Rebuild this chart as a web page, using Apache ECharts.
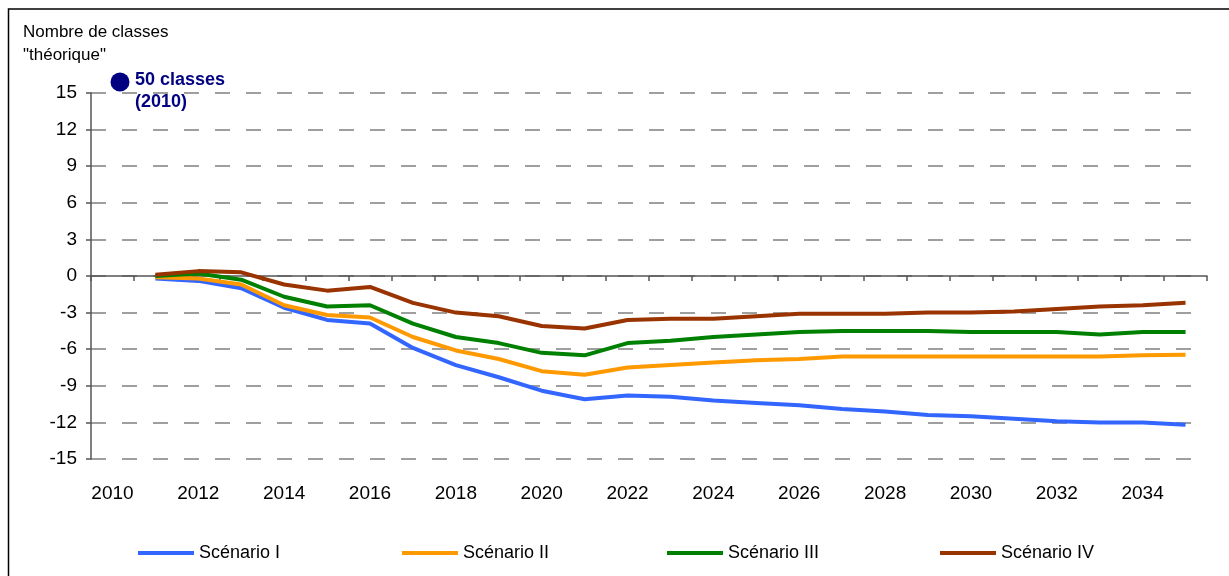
<!DOCTYPE html>
<html>
<head>
<meta charset="utf-8">
<script src="https://cdn.jsdelivr.net/npm/echarts@6/dist/echarts.min.js"></script>
<style>
html,body{margin:0;padding:0;background:#fff;}
#chart{width:1229px;height:576px;}
</style>
</head>
<body>
<div id="chart"></div>
<script>
const years = ['2010','2011','2012','2013','2014','2015','2016','2017','2018','2019','2020','2021','2022','2023','2024','2025','2026','2027','2028','2029','2030','2031','2032','2033','2034','2035'];
const scenarioI   = [null,-0.2,-0.4,-1.0,-2.6,-3.6,-3.9,-5.9,-7.3,-8.3,-9.4,-10.1,-9.8,-9.9,-10.2,-10.4,-10.6,-10.9,-11.1,-11.4,-11.5,-11.7,-11.9,-12.0,-12.0,-12.2];
const scenarioII  = [null,-0.1,-0.2,-0.7,-2.4,-3.2,-3.4,-5.0,-6.1,-6.8,-7.8,-8.1,-7.5,-7.3,-7.1,-6.9,-6.8,-6.6,-6.6,-6.6,-6.6,-6.6,-6.6,-6.6,-6.5,-6.45];
const scenarioIII = [null,0.0,0.2,-0.3,-1.7,-2.5,-2.4,-3.9,-5.0,-5.5,-6.3,-6.5,-5.5,-5.3,-5.0,-4.8,-4.6,-4.5,-4.5,-4.5,-4.6,-4.6,-4.6,-4.8,-4.6,-4.6];
const scenarioIV  = [null,0.1,0.4,0.3,-0.7,-1.2,-0.9,-2.2,-3.0,-3.3,-4.1,-4.3,-3.6,-3.5,-3.5,-3.3,-3.1,-3.1,-3.1,-3.0,-3.0,-2.9,-2.7,-2.5,-2.4,-2.2];
const seriesNames = ['Scénario I','Scénario II','Scénario III','Scénario IV'];
const seriesColors = ['#3366FF','#FF9900','#008000','#993300'];
const seriesData = [scenarioI, scenarioII, scenarioIII, scenarioIV];
const yTicks = {min:-15, max:15, interval:3};

const FONT = 'Liberation Sans, Arial, sans-serif';
const chart = echarts.init(document.getElementById('chart'), null, {renderer:'canvas'});

const legendLefts = [138, 402, 667, 940];

const option = {
  animation: false,
  backgroundColor: '#ffffff',
  textStyle: {fontFamily: FONT},
  grid: {left: 91, right: 22, top: 93, bottom: 117, containLabel: false},
  legend: seriesNames.map((n, i) => ({
    data: [n],
    left: legendLefts[i],
    top: 544,
    padding: 0,
    icon: 'rect',
    itemWidth: 56,
    itemHeight: 4,
    itemGap: 0,
    textStyle: {fontFamily: FONT, fontSize: 18, color: '#000'}
  })),
  xAxis: [
    {
      type: 'category',
      data: years,
      boundaryGap: true,
      position: 'bottom',
      axisLine: {onZero: true, lineStyle: {color: '#555555', width: 1.5}},
      axisTick: {show: true, interval: 0, length: 5, inside: false, lineStyle: {color: '#555555', width: 1.5}},
      axisLabel: {show: false},
      splitLine: {show: false}
    },
    {
      type: 'category',
      data: years,
      boundaryGap: true,
      position: 'bottom',
      axisLine: {show: false, onZero: false},
      axisTick: {show: false},
      axisLabel: {show: true, interval: 1, margin: 25, fontSize: 19, color: '#000', fontFamily: FONT},
      splitLine: {show: false}
    }
  ],
  yAxis: {
    type: 'value',
    min: yTicks.min,
    max: yTicks.max,
    interval: yTicks.interval,
    axisLine: {show: true, lineStyle: {color: '#555555', width: 1.5}},
    axisTick: {show: true, length: 5, inside: false, lineStyle: {color: '#555555', width: 1.5}},
    axisLabel: {fontSize: 19, color: '#000', margin: 14, fontFamily: FONT},
    splitLine: {show: true, lineStyle: {color: '#808080', width: 1.5, type: [15, 16]}}
  },
  series: seriesNames.map((n, i) => ({
    name: n,
    type: 'line',
    xAxisIndex: 0,
    data: seriesData[i],
    showSymbol: false,
    symbol: 'none',
    lineStyle: {color: seriesColors[i], width: 4},
    itemStyle: {color: seriesColors[i]},
    z: 2 + i
  })),
  graphic: [
    {type: 'rect', shape: {x: 8.5, y: 9, width: 1300, height: 700}, style: {fill: 'none', stroke: '#000', lineWidth: 1.5}, silent: true},
    {type: 'text', left: 23, top: 24, style: {text: 'Nombre de classes', font: '17px ' + FONT, fill: '#000'}},
    {type: 'text', left: 23, top: 47, style: {text: '"théorique"', font: '17px ' + FONT, fill: '#000'}},
    {type: 'circle', shape: {cx: 120, cy: 82, r: 9.5}, style: {fill: '#000080'}},
    {type: 'text', left: 135, top: 71, style: {text: '50 classes', font: 'bold 18px ' + FONT, fill: '#000080'}},
    {type: 'text', left: 135, top: 93, style: {text: '(2010)', font: 'bold 18px ' + FONT, fill: '#000080'}}
  ]
};
chart.setOption(option);
</script>
</body>
</html>
